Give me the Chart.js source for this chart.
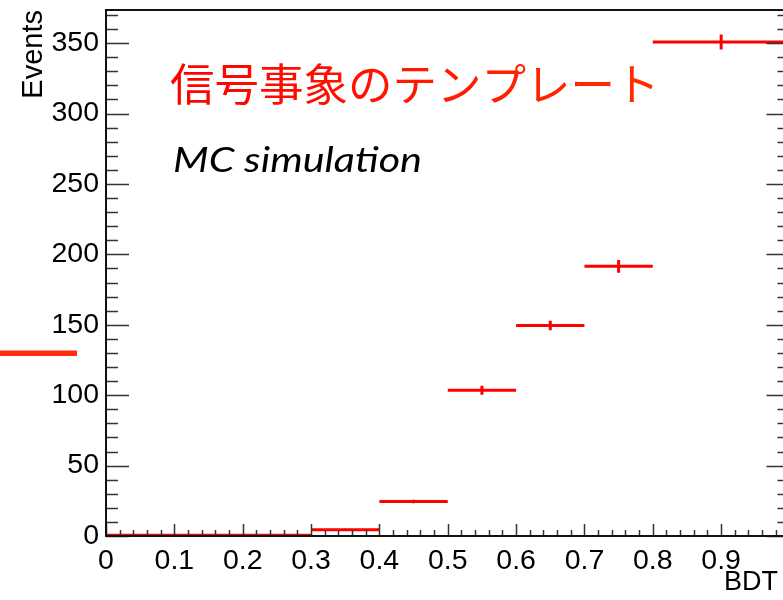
<!DOCTYPE html>
<html>
<head>
<meta charset="utf-8">
<script src="https://cdn.jsdelivr.net/npm/chart.js@4"></script>
<style>
  html, body { margin: 0; padding: 0; background: #fff; overflow: hidden; }
  #wrap { width: 796px; height: 600px; }
</style>
</head>
<body>
<div id="wrap"><canvas id="c" width="796" height="600"></canvas></div>
<script>
// BDT output histogram (signal template, MC)
const binEdges    = [0, 0.1, 0.2, 0.3, 0.4, 0.5, 0.6, 0.7, 0.8, 1.0];
const eventCounts = [0.5, 0.5, 0.5, 4.5, 24.5, 103.5, 149.5, 191.5, 350.8];
const countErrors = [0, 0, 0, 0.6, 1.2, 3.2, 3.4, 4.5, 5.3];

const xMin = 0, xMax = 1.0, xMajorStep = 0.1, xMinorStep = 0.02;
const yMin = 0, yMax = 373.5, yMajorStep = 50, yMinorStep = 10;

const titleText = '信号事象のテンプレート';
const noteText = 'MC simulation';
const xTitle = 'BDT';
const yTitle = 'Events';

const RED = '#ff0000';
const TICK_FONT = '"Liberation Sans", Arial, Helvetica, sans-serif';

// horizontal bin segments, separated by gaps
const binSegments = [];
eventCounts.forEach((v, i) => {
  binSegments.push({ x: binEdges[i], y: v });
  binSegments.push({ x: binEdges[i + 1], y: v });
  binSegments.push({ x: binEdges[i + 1], y: null });
});

// vertical error bars at bin centres
const errorBars = [];
eventCounts.forEach((v, i) => {
  const e = countErrors[i];
  if (!e) return;
  const c = (binEdges[i] + binEdges[i + 1]) / 2;
  errorBars.push({ x: c, y: v - e });
  errorBars.push({ x: c, y: v + e });
  errorBars.push({ x: c, y: null });
});

function steps(lo, hi, step) {
  const out = [];
  const n = Math.round((hi - lo) / step);
  for (let k = 0; k <= n; k++) out.push(+(lo + k * step).toFixed(6));
  return out;
}

// frame, inward ticks and free text
const framePlugin = {
  id: 'frame',
  afterDraw(chart) {
    const { ctx, chartArea: a, scales: { x, y } } = chart;
    ctx.save();

    // ticks
    ctx.strokeStyle = '#333';
    ctx.lineWidth = 1.5;
    ctx.beginPath();
    steps(yMin, 370, yMinorStep).forEach(v => {
      const py = Math.round(y.getPixelForValue(v)) + 0.5;
      const major = Math.abs(v % yMajorStep) < 1e-6;
      const len = major ? 23 : 12;
      ctx.moveTo(a.left, py); ctx.lineTo(a.left + len, py);
      ctx.moveTo(a.right, py); ctx.lineTo(a.right - len, py);
    });
    steps(xMin, xMax, xMinorStep).forEach(v => {
      const px = Math.round(x.getPixelForValue(v)) + 0.5;
      const major = Math.abs(v / xMajorStep - Math.round(v / xMajorStep)) < 1e-6;
      const len = major ? 12 : 6;
      ctx.moveTo(px, a.bottom); ctx.lineTo(px, a.bottom - len);
    });
    ctx.stroke();

    // frame
    ctx.strokeStyle = '#111';
    ctx.lineWidth = 2;
    ctx.strokeRect(a.left, a.top, a.right - a.left, a.bottom - a.top);

    // axis titles
    ctx.fillStyle = '#000';
    ctx.font = '27px ' + TICK_FONT;
    ctx.textAlign = 'right';
    ctx.textBaseline = 'alphabetic';
    ctx.fillText(xTitle, 778, 590);
    ctx.font = '29px ' + TICK_FONT;
    ctx.save();
    ctx.translate(42, a.top);
    ctx.rotate(-Math.PI / 2);
    ctx.fillText(yTitle, 0, 0);
    ctx.restore();

    // heading
    ctx.font = '44.5px "Noto Sans CJK JP", sans-serif';
    ctx.textAlign = 'left';
    const g = ctx.createLinearGradient(170, 0, 655, 0);
    g.addColorStop(0, '#ff0000');
    g.addColorStop(1, '#ff3000');
    ctx.fillStyle = g;
    ctx.fillText(titleText, 170, 101);

    // note
    ctx.fillStyle = '#000';
    ctx.font = 'italic 34px Lato, "Open Sans", sans-serif';
    const w = ctx.measureText(noteText).width;
    ctx.save();
    ctx.translate(173, 172);
    ctx.scale(249 / w, 1);
    ctx.fillText(noteText, 0, 0);
    ctx.restore();

    // side marker
    ctx.fillStyle = '#ff2d0f';
    ctx.fillRect(0, 350.5, 77, 5.5);

    ctx.restore();
  }
};

function build() {
  new Chart(document.getElementById('c'), {
    type: 'scatter',
    data: {
      datasets: [
        { data: binSegments, showLine: true, spanGaps: false, borderColor: RED,
          borderWidth: 3, pointRadius: 0, borderCapStyle: 'butt' },
        { data: errorBars, showLine: true, spanGaps: false, borderColor: RED,
          borderWidth: 3, pointRadius: 0, borderCapStyle: 'butt' }
      ]
    },
    options: {
      responsive: false,
      animation: false,
      events: [],
      layout: { padding: { top: 10, right: 6.5, left: 0, bottom: 0 } },
      plugins: { legend: { display: false }, tooltip: { enabled: false } },
      scales: {
        x: {
          type: 'linear', min: xMin, max: xMax,
          grid: { display: false }, border: { display: false },
          afterFit(s) { s.height = 64; s.paddingLeft = 0; s.paddingRight = 0; },
          afterBuildTicks(s) {
            s.ticks = steps(xMin, 0.9, xMajorStep).map(v => ({ value: v }));
          },
          ticks: {
            color: '#000', padding: 0, maxRotation: 0, autoSkip: false,
            font: { family: TICK_FONT, size: 28.5 },
            callback: v => String(+v.toFixed(1))
          }
        },
        y: {
          type: 'linear', min: yMin, max: yMax,
          grid: { display: false }, border: { display: false },
          afterFit(s) { s.width = 106; s.paddingTop = 0; s.paddingBottom = 0; },
          afterBuildTicks(s) {
            s.ticks = steps(yMin, 350, yMajorStep).map(v => ({ value: v }));
          },
          ticks: {
            color: '#000', padding: -1, autoSkip: false,
            font: { family: TICK_FONT, size: 28.5 },
            callback: v => String(v)
          }
        }
      }
    },
    plugins: [framePlugin]
  });
}

Promise.all([
  document.fonts.load('27px "Liberation Sans"'),
  document.fonts.load('45px "Noto Sans CJK JP"', titleText),
  document.fonts.load('italic 34px Lato')
]).catch(() => {}).then(build);
</script>
</body>
</html>
